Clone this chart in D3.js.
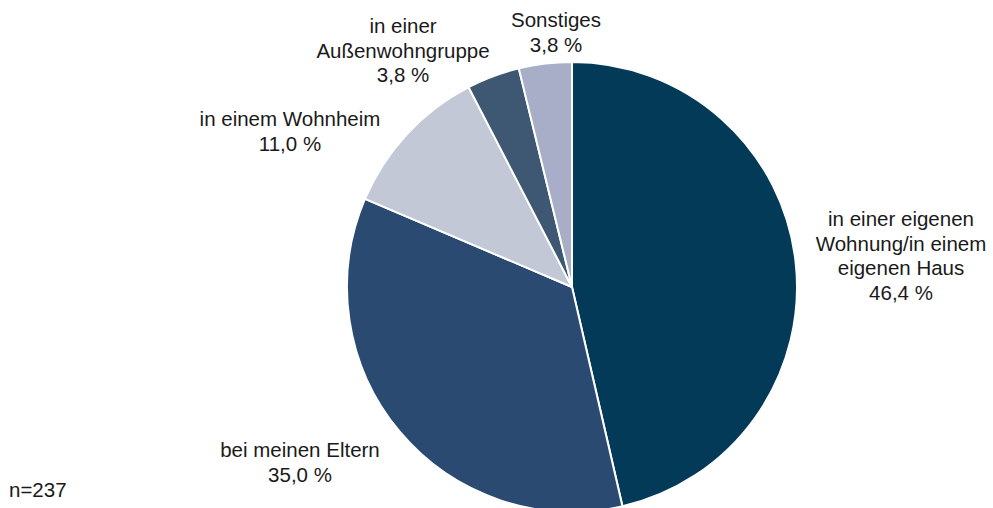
<!DOCTYPE html>
<html>
<head>
<meta charset="utf-8">
<script src="https://cdn.jsdelivr.net/npm/d3@7"></script>
<style>
  html, body { margin: 0; padding: 0; background: #fff; }
  svg { display: block; font-family: "Liberation Sans", Arial, Helvetica, sans-serif; }
</style>
</head>
<body>
<svg id="chart" width="993" height="508"></svg>
<script>
// Wohnsituation der Befragten (Anteile in Prozent)
const categories = [
  ["in einer eigenen", "Wohnung/in einem", "eigenen Haus"],
  ["bei meinen Eltern"],
  ["in einem Wohnheim"],
  ["in einer", "Außenwohngruppe"],
  ["Sonstiges"]
];
const values = [46.4, 35.0, 11.0, 3.8, 3.8];
const colors = ["#023a58", "#2a4a72", "#c3c8d6", "#3e5874", "#a9aec8"];
const sampleNote = "n=237";

// label anchor positions (centre of the text block, first baseline)
const labelPos = [
  { x: 901, y: 226 },
  { x: 300, y: 457 },
  { x: 290, y: 126 },
  { x: 403, y: 33 },
  { x: 556, y: 27 }
];
const lineH = 24.5;
const fontSize = 20.5;

const svg = d3.select("#chart");
const cx = 572, cy = 287, r = 225;

const data = values.map((v, i) => ({ value: v, label: categories[i], color: colors[i], pos: labelPos[i] }));

const pie = d3.pie().value(d => d.value).sort(null);
const arc = d3.arc().innerRadius(0).outerRadius(r);

const g = svg.append("g").attr("transform", `translate(${cx},${cy})`);
g.selectAll("path")
  .data(pie(data))
  .join("path")
  .attr("d", arc)
  .attr("fill", d => d.data.color)
  .attr("stroke", "#fff")
  .attr("stroke-width", 2)
  .attr("stroke-linejoin", "round");

const fmt = v => v.toFixed(1).replace(".", ",") + " %";

const labels = svg.append("g")
  .attr("font-size", fontSize)
  .attr("fill", "#1a1a1a")
  .attr("text-anchor", "middle");

data.forEach(d => {
  const t = labels.append("text").attr("x", d.pos.x).attr("y", d.pos.y);
  const lines = d.label.concat([fmt(d.value)]);
  lines.forEach((line, i) => {
    t.append("tspan").attr("x", d.pos.x).attr("dy", i === 0 ? 0 : lineH).text(line);
  });
});

svg.append("text")
  .attr("x", 9)
  .attr("y", 497)
  .attr("font-size", fontSize)
  .attr("fill", "#1a1a1a")
  .text(sampleNote);
</script>
</body>
</html>
